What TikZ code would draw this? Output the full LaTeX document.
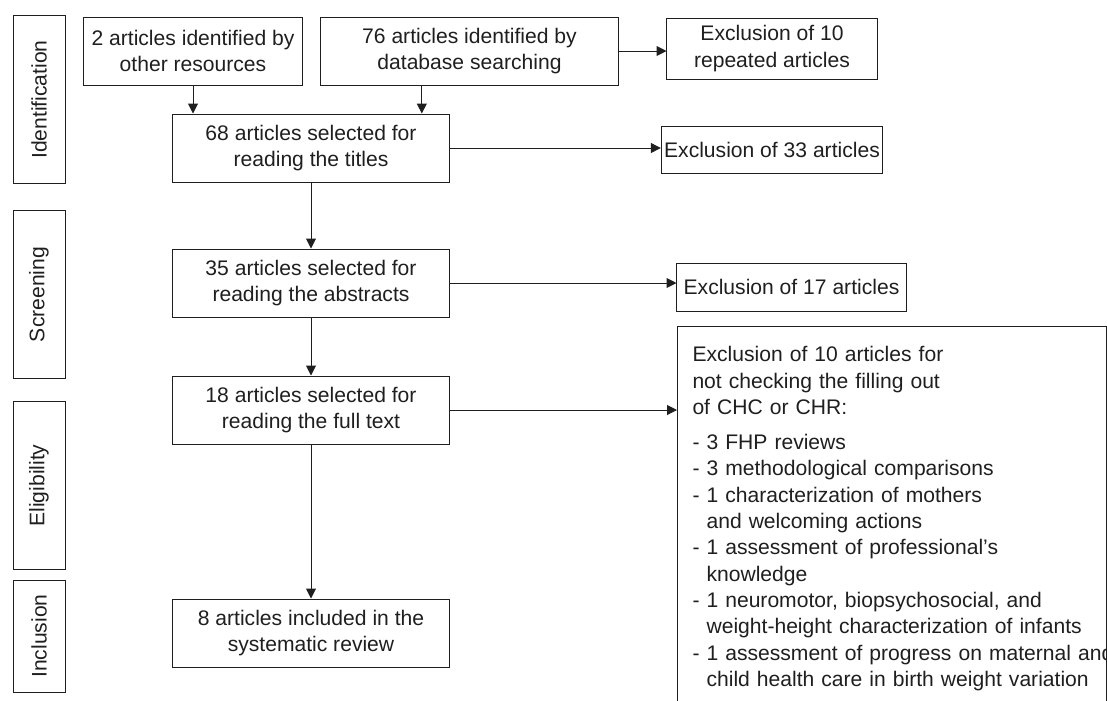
\documentclass[tikz,border=0pt]{standalone}
\usepackage{fontspec}
\setmainfont{Liberation Sans}
\usetikzlibrary{positioning, arrows.meta, calc}

\begin{document}
\begin{tikzpicture}[
    x=0.025cm, y=-0.025cm, line width=0.7pt, color=black!88,
    font=\fontsize{15}{18.7}\selectfont,
    phase/.style={draw, rotate=90, minimum width=#1, minimum height=1.3cm, inner sep=0pt},
    box/.style={draw, align=center, minimum width=#1, minimum height=1.7cm, inner sep=2pt},
    excl/.style={draw, align=center, minimum width=5.25cm, minimum height=#1, inner sep=2pt},
    arr/.style={-{Triangle[length=7pt, width=7pt]}}]

\useasboundingbox (0,0) rectangle (1107,700);

\node[phase=4.175cm](ident) at (39,99.5){Identification};
\node[phase=4.175cm](screen) at (39,294.5){Screening};
\node[phase=4.175cm](elig) at (39,485.5){Eligibility};
\node[phase=2.8cm](incl) at (39,636){Inclusion};

\node[box=5.45cm](other) at (193,51){2 articles identified by\\other resources};
\node[box=7.425cm](dbase) at (469.5,51){76 articles identified by\\database searching};
\node[excl=1.525cm](repeat) at (772,48.5){Exclusion of 10\\repeated articles};
\node[box=6.9cm](titles) at (311,148){68 articles selected for\\reading the titles};
\node[excl=1.175cm](excltitles) at (772,149.5){Exclusion of 33 articles};
\node[box=6.9cm](abstracts) at (311,283){35 articles selected for\\reading the abstracts};
\node[excl=1.2cm, minimum width=5.725cm](exclabs) at (791.5,287){Exclusion of 17 articles};
\node[box=6.9cm](fulltext) at (311,410){18 articles selected for\\reading the full text};
\node[box=6.9cm](included) at (311,633){8 articles included in the\\systematic review};
\node[draw, anchor=north west, align=left, text width=9.975cm, inner xsep=0.375cm, inner ysep=0.5cm](exclfull) at (677,326){Exclusion of 10 articles for\\not checking the filling out\\of CHC or CHR:\\[0.225cm]
- 3 FHP reviews\\
- 3 methodological comparisons\\
- 1 characterization of mothers\\
\hphantom{- }and welcoming actions\\
- 1 assessment of professional's\\
\hphantom{- }knowledge\\
- 1 neuromotor, biopsychosocial, and\\
\hphantom{- }weight-height characterization of infants\\
\mbox{- 1 assessment of progress on maternal and}\\
\hphantom{- }child health care in birth weight variation\\[0.4cm]\strut};

\coordinate (dfoot) at ($(dbase.south west)!0.34!(dbase.south east)$);
\draw[arr] (other.south) -- (other.south |- titles.north);
\draw[arr] (dfoot) -- (dfoot |- titles.north);
\draw[arr] (dbase.east) -- (dbase.east -| repeat.west);
\draw[arr] (titles.east) -- (titles.east -| excltitles.west);
\draw[arr] (titles.south) -- (abstracts.north);
\draw[arr] (abstracts.east) -- (abstracts.east -| exclabs.west);
\draw[arr] (abstracts.south) -- (fulltext.north);
\draw[arr] (fulltext.east) -- (fulltext.east -| exclfull.west);
\draw[arr] (fulltext.south) -- (included.north);
\end{tikzpicture}
\end{document}
